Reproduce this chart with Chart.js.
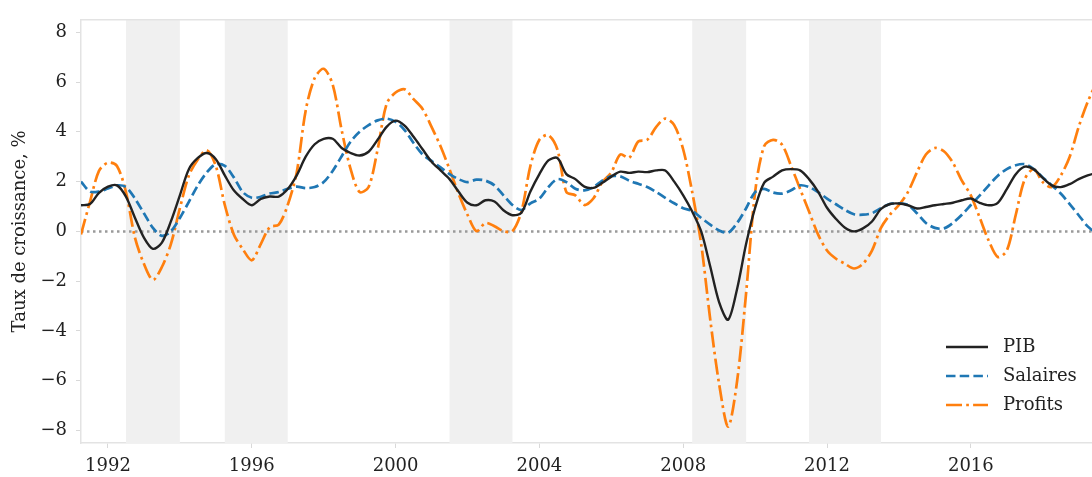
<!DOCTYPE html>
<html>
<head>
<meta charset="utf-8">
<script src="https://cdn.jsdelivr.net/npm/chart.js@4/dist/chart.umd.min.js"></script>
<style>
  html, body { margin: 0; padding: 0; background: #fff; }
  #wrap { width: 1092px; height: 477px; }
</style>
</head>
<body>
<div id="wrap"><canvas id="growthChart" width="1092" height="477"></canvas></div>
<script>
// Quarterly series, first point = 1991 Q2 (1991.25), one value per quarter
const firstQuarter = 1991.25;
const quarterStep = 0.25;

const pib = [
  1.05, 1.1, 1.55,
  1.8, 1.85, 1.4, 0.55,
  -0.25, -0.7, -0.45, 0.4,
  1.45, 2.5, 2.95, 3.15,
  2.9, 2.25, 1.65, 1.3,
  1.05, 1.3, 1.4, 1.4,
  1.7, 2.25, 3.0, 3.5,
  3.72, 3.72, 3.35, 3.15,
  3.05, 3.2, 3.68, 4.2,
  4.45, 4.25, 3.8, 3.3,
  2.8, 2.45, 2.1, 1.6,
  1.15, 1.05, 1.25, 1.2,
  0.85, 0.65, 0.75, 1.6,
  2.3, 2.85, 2.95, 2.3,
  2.1, 1.8, 1.75, 1.95,
  2.2, 2.4, 2.35, 2.4,
  2.38, 2.45, 2.45, 2.0,
  1.45, 0.8, 0.0, -1.4,
  -2.85, -3.55, -2.3, -0.5,
  0.95, 1.95, 2.2, 2.45,
  2.5, 2.45, 2.1, 1.6,
  0.95, 0.5, 0.15, 0.0,
  0.12, 0.4, 0.9, 1.1,
  1.12, 1.05, 0.92, 0.98,
  1.05, 1.1, 1.15, 1.25,
  1.32, 1.15, 1.05, 1.15,
  1.7, 2.3, 2.6, 2.5,
  2.15, 1.85, 1.78, 1.9,
  2.1, 2.25, 2.35
];

const salaires = [
  2.0, 1.6, 1.6,
  1.72, 1.85, 1.78, 1.32,
  0.73, 0.14, -0.18, 0.0,
  0.54, 1.19, 1.85, 2.37,
  2.7, 2.63, 2.17, 1.58,
  1.35, 1.39, 1.52, 1.58,
  1.71, 1.8, 1.74, 1.78,
  1.98, 2.43, 3.02, 3.61,
  4.0, 4.27, 4.46, 4.53,
  4.4, 4.07, 3.55, 3.09,
  2.83, 2.57, 2.3, 2.1,
  1.98, 2.08, 2.04, 1.85,
  1.45, 1.06, 0.86, 1.13,
  1.32, 1.78, 2.1, 1.98,
  1.71, 1.65, 1.78, 2.04,
  2.22, 2.21, 2.04, 1.91,
  1.78, 1.58, 1.35, 1.13,
  0.93, 0.82, 0.54, 0.27,
  0.04, -0.05, 0.34, 0.93,
  1.58, 1.71, 1.56, 1.52,
  1.65, 1.85, 1.78, 1.58,
  1.32, 1.09, 0.86, 0.69,
  0.67, 0.73, 0.93, 1.1,
  1.13, 1.06, 0.73, 0.34,
  0.14, 0.12, 0.34, 0.67,
  1.06, 1.45, 1.85, 2.24,
  2.5, 2.66, 2.7, 2.5,
  2.17, 1.85, 1.52, 1.1,
  0.65, 0.2, -0.1
];

const profits = [
  -0.12, 1.19, 2.43,
  2.76, 2.63, 1.58, -0.25,
  -1.3, -1.95, -1.43, -0.51,
  0.93, 2.24, 2.89, 3.26,
  2.63, 1.06, -0.12, -0.71,
  -1.16, -0.51, 0.17, 0.27,
  1.06, 2.37, 4.86, 6.16,
  6.53, 5.9, 4.07, 2.5,
  1.58, 1.78, 3.29, 5.12,
  5.58, 5.71, 5.31, 4.92,
  4.2, 3.42, 2.5, 1.52,
  0.67, 0.01, 0.34, 0.21,
  0.01, 0.01, 0.8, 2.63,
  3.68, 3.87, 3.29, 1.58,
  1.45, 1.06, 1.32, 1.98,
  2.37, 3.09, 2.96, 3.61,
  3.68, 4.2, 4.53, 4.27,
  3.29, 1.58, -0.51, -3.52,
  -6.14, -7.84, -6.0, -2.47,
  1.58, 3.42, 3.68, 3.48,
  2.63, 1.71, 0.8, -0.12,
  -0.77, -1.1, -1.3, -1.49,
  -1.3, -0.77, 0.14, 0.67,
  1.06, 1.58, 2.37, 3.09,
  3.35, 3.22, 2.76, 2.04,
  1.45, 0.54, -0.38, -1.03,
  -0.77, 0.67, 2.1, 2.5,
  1.98, 1.78, 2.24, 3.0,
  4.2, 5.2, 6.0
];

// recession periods (shaded), [start, end] in decimal years
const bandStarts = [1992.5, 1995.25, 2001.5, 2008.25, 2011.5];
const bandEnds = [1994.0, 1997.0, 2003.25, 2009.75, 2013.5];

const xTicks = [1992, 1996, 2000, 2004, 2008, 2012, 2016];
const yTicks = [-8, -6, -4, -2, 0, 2, 4, 6, 8];

const seriesLabels = ["PIB", "Salaires", "Profits"];

const toPoints = (values) =>
  values.map((v, i) => ({ x: firstQuarter + i * quarterStep, y: v }));

const Chart = window.Chart;
Chart.defaults.font.family = "'DejaVu Serif', serif";
Chart.defaults.font.size = 18;
Chart.defaults.color = "#222";

const backdropPlugin = {
  id: "backdrop",
  beforeDatasetsDraw(chart) {
    const { ctx, chartArea, scales } = chart;
    const x = scales.x;
    const y = scales.y;
    ctx.save();
    ctx.beginPath();
    ctx.rect(chartArea.left, chartArea.top, chartArea.width, chartArea.height);
    ctx.clip();
    // shaded periods
    ctx.fillStyle = "#f0f0f0";
    bandStarts.forEach((s, i) => {
      const x0 = x.getPixelForValue(s);
      const x1 = x.getPixelForValue(bandEnds[i]);
      ctx.fillRect(x0, chartArea.top, x1 - x0, chartArea.height);
    });
    // zero line, dotted
    const y0 = y.getPixelForValue(0);
    ctx.strokeStyle = "#9a9a9a";
    ctx.lineWidth = 2.5;
    ctx.setLineDash([2.5, 3.5]);
    ctx.beginPath();
    ctx.moveTo(chartArea.left, y0);
    ctx.lineTo(chartArea.right, y0);
    ctx.stroke();
    ctx.restore();
  },
  afterDraw(chart) {
    const { ctx, chartArea } = chart;
    ctx.save();
    // top spine
    ctx.strokeStyle = "#e3e3e3";
    ctx.lineWidth = 1.5;
    ctx.beginPath();
    ctx.moveTo(chartArea.left, chartArea.top);
    ctx.lineTo(chartArea.right, chartArea.top);
    ctx.stroke();

    // legend, lower right
    const lx = chartArea.right - 146;
    const ly = chartArea.bottom - 96;
    chart.data.datasets.forEach((ds, i) => {
      const yy = ly + i * 29;
      ctx.strokeStyle = ds.borderColor;
      ctx.lineWidth = ds.borderWidth;
      ctx.setLineDash(ds.borderDash || []);
      ctx.beginPath();
      ctx.moveTo(lx, yy);
      ctx.lineTo(lx + 42, yy);
      ctx.stroke();
      ctx.setLineDash([]);
      ctx.fillStyle = "#222";
      ctx.font = "18px 'DejaVu Serif', serif";
      ctx.textBaseline = "middle";
      ctx.fillText(ds.label, lx + 57, yy);
    });
    ctx.restore();
  },
};

new Chart(document.getElementById("growthChart"), {
  type: "line",
  data: {
    datasets: [
      {
        label: seriesLabels[0],
        data: toPoints(pib),
        borderColor: "#222222",
        borderWidth: 2.4,
      },
      {
        label: seriesLabels[1],
        data: toPoints(salaires),
        borderColor: "#1f77b4",
        borderWidth: 2.7,
        borderDash: [9.5, 4.2],
      },
      {
        label: seriesLabels[2],
        data: toPoints(profits),
        borderColor: "#ff7f0e",
        borderWidth: 2.7,
        borderDash: [16, 4.2, 2.7, 4.2],
      },
    ],
  },
  options: {
    responsive: false,
    animation: false,
    devicePixelRatio: 1,
    layout: { padding: { top: 10, right: 0, left: 0, bottom: 0 } },
    elements: {
      point: { radius: 0 },
      line: { tension: 0.3, borderCapStyle: "butt" },
    },
    plugins: {
      legend: { display: false },
      tooltip: { enabled: false },
    },
    scales: {
      x: {
        type: "linear",
        min: 1991.25,
        max: 2019.37,
        afterBuildTicks: (scale) => {
          scale.ticks = xTicks.map((v) => ({ value: v }));
        },
        afterFit: (scale) => {
          scale.height = 34;
        },
        ticks: {
          padding: 8,
          maxRotation: 0,
          callback: (v) => String(v),
        },
        grid: {
          drawOnChartArea: false,
          drawTicks: true,
          tickLength: 5,
          color: "#d9d9d9",
        },
        border: { color: "#e3e3e3", width: 1.5 },
      },
      y: {
        min: -8.5,
        max: 8.5,
        afterBuildTicks: (scale) => {
          scale.ticks = yTicks.map((v) => ({ value: v }));
        },
        afterFit: (scale) => {
          scale.width = 81;
        },
        ticks: {
          padding: 9,
          callback: (v) => (v < 0 ? "\u2212" + Math.abs(v) : String(v)),
        },
        grid: {
          drawOnChartArea: false,
          drawTicks: true,
          tickLength: 5,
          color: "#d9d9d9",
        },
        border: { color: "#e3e3e3", width: 1.5 },
        title: {
          display: true,
          text: "Taux de croissance, %",
          padding: { top: 10, bottom: 0 },
          font: { size: 18 },
        },
      },
    },
  },
  plugins: [backdropPlugin],
});
</script>
</body>
</html>
